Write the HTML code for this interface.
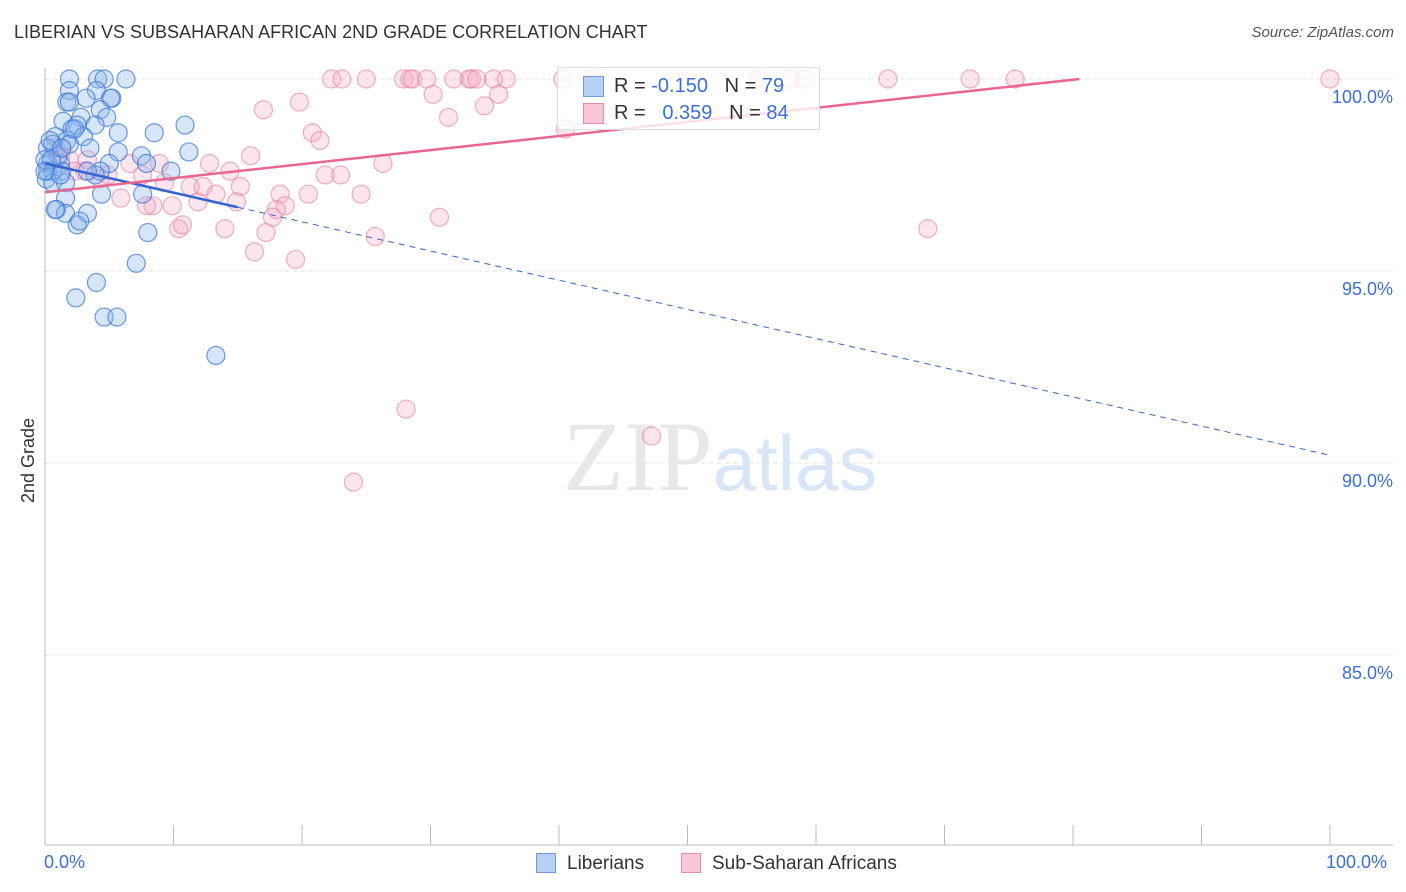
<!DOCTYPE html>
<html><head><meta charset="utf-8"><style>
body{margin:0;background:#fff;font-family:"Liberation Sans",sans-serif;}
#wrap{position:relative;width:1406px;height:892px;overflow:hidden;}
.t{position:absolute;white-space:nowrap;}
</style></head><body>
<div id="wrap">
<div class="t" style="left:14px;top:22px;font-size:18px;color:#333;">LIBERIAN VS SUBSAHARAN AFRICAN 2ND GRADE CORRELATION CHART</div>
<div class="t" style="right:12px;top:24px;font-size:15px;color:#555;font-style:italic;">Source: ZipAtlas.com</div>
<svg id="svg" width="1406" height="892" style="position:absolute;left:0;top:0"></svg>
<div class="t" style="left:18px;font-size:18px;color:#333;transform:rotate(-90deg);transform-origin:0 0;top:503px;">2nd Grade</div>
<div class="t" style="left:44px;top:852px;font-size:18px;color:#3b6fd4;">0.0%</div>
<div class="t" style="left:1326px;top:852px;font-size:18px;color:#3b6fd4;">100.0%</div>
<div class="t" style="left:536px;top:853px;width:20px;height:20px;background:#b9d0f5;border:1px solid #6f97e0;box-sizing:border-box;"></div>
<div class="t" style="left:567px;top:853px;font-size:19px;color:#333;">Liberians</div>
<div class="t" style="left:681px;top:853px;width:20px;height:20px;background:#f8c6d4;border:1px solid #e88aa6;box-sizing:border-box;"></div>
<div class="t" style="left:712px;top:853px;font-size:19px;color:#333;">Sub-Saharan Africans</div>
<div class="t" style="left:557px;top:67px;width:263px;height:63px;border:1px solid #ddd;background:rgba(255,255,255,0.8);box-sizing:border-box;">
 <div class="t" style="left:25px;top:8px;width:21px;height:21px;background:#b9d0f5;border:1px solid #6f97e0;box-sizing:border-box;"></div>
 <div class="t" style="left:56px;top:7px;font-size:20px;color:#333;">R = <span style="color:#3b6fd4">-0.150</span>&nbsp;&nbsp;&nbsp;N = <span style="color:#3b6fd4">79</span></div>
 <div class="t" style="left:25px;top:35px;width:21px;height:21px;background:#f8c6d4;border:1px solid #e88aa6;box-sizing:border-box;"></div>
 <div class="t" style="left:56px;top:34px;font-size:20px;color:#333;">R = &nbsp;&nbsp;<span style="color:#3b6fd4">0.359</span>&nbsp;&nbsp;&nbsp;N = <span style="color:#3b6fd4">84</span></div>
</div>
</div>
<script>
const yTicks=[100,95,90,85];
const yTickLabels=["100.0%","95.0%","90.0%","85.0%"];
const blueX=[1.9,4.1,4.6,6.3,1.9,4.0,5.2,5.1,1.7,1.9,3.2,4.3,4.8,2.8,1.4,2.5,3.9,10.9,2.1,5.7,8.5,0.8,3.0,1.7,0.6,3.5,5.7,11.2,7.5,7.9,5.0,1.2,0.2,0.2,0.6,1.3,4.3,3.9,9.8,0.1,0.6,1.6,4.4,7.6,1.6,0.9,1.6,3.3,0.8,2.5,2.7,8.0,7.1,4.0,2.4,4.6,5.6,13.3,0.2,0.4,1.0,0,0.5,1.2,1.9,2.3,1.3,3.3,0];
const blueY=[100,100,100,100,99.7,99.7,99.5,99.5,99.4,99.4,99.5,99.2,99.0,99.0,98.9,98.8,98.8,98.8,98.7,98.6,98.6,98.5,98.5,98.4,98.3,98.2,98.1,98.1,98.0,97.8,97.8,97.8,97.8,97.6,97.6,97.6,97.6,97.5,97.6,97.4,97.3,97.3,97.0,97.0,96.9,96.6,96.5,96.5,96.6,96.2,96.3,96.0,95.2,94.7,94.3,93.8,93.8,92.8,98.2,98.4,98.0,97.9,97.9,97.5,98.3,98.7,98.2,97.6,97.6];
const pinkX=[22.3,23.1,25.0,27.9,28.4,28.6,29.7,31.8,33.0,33.2,33.6,34.9,35.9,40.3,42.6,55.5,58.0,59.1,65.6,72.0,75.5,100,30.2,35.3,17.0,19.8,34.2,31.4,20.8,21.4,40.5,16.0,26.3,12.8,14.4,8.9,6.6,3.3,1.2,1.9,23.0,21.8,11.3,13.3,15.2,9.3,7.6,18.3,20.5,24.6,5.9,8.4,9.9,11.9,7.9,18.7,18.0,17.7,10.4,10.7,14.0,17.2,25.7,30.7,68.7,16.3,19.5,28.1,47.2,24.0,4.3,2.3,0.8,1.3,3.1,4.9,14.9,12.3];
const pinkY=[100,100,100,100,100,100,100,100,100,100,100,100,100,100,100,100,100,100,100,100,100,100,99.6,99.6,99.2,99.4,99.3,99.0,98.6,98.4,98.7,98.0,97.8,97.8,97.6,97.8,97.8,97.9,98.0,97.9,97.5,97.5,97.2,97.0,97.2,97.3,97.5,97.0,97.0,97.0,96.9,96.7,96.7,96.8,96.7,96.7,96.6,96.4,96.1,96.2,96.1,96.0,95.9,96.4,96.1,95.5,95.3,91.4,90.7,89.5,97.4,97.6,98.2,98.2,97.6,97.5,96.8,97.2];
const blueTrend=[97.8,90.2];
const pinkTrend=[97.05,100.0];
const pinkTrendEndX=80.5;
const blueSolidEnd=15;

const X0=45,X1=1330,YT=79,YB=845,YMIN=80.05,YMAX=100;
const sx=v=>X0+(v/100)*(X1-X0);
const sy=v=>YT+(YMAX-v)/(YMAX-YMIN)*(YB-YT);
const svg=document.getElementById('svg');
const NS='http://www.w3.org/2000/svg';
function mk(tag,attrs){const e=document.createElementNS(NS,tag);for(const k in attrs)e.setAttribute(k,attrs[k]);svg.appendChild(e);return e;}
yTicks.forEach((t,i)=>{
 const g=mk('line',{x1:X0,x2:1393,y1:sy(t),y2:sy(t),stroke:'#ddd','stroke-dasharray':'4,4'});
 
 
 const tx=mk('text',{x:1393,y:sy(t)+24,'text-anchor':'end','font-size':18,fill:'#3b6fd4','font-family':'Liberation Sans, sans-serif'});
 tx.textContent=yTickLabels[i];
 
 
});
const ax=mk('line',{x1:X0,x2:X0,y1:68,y2:YB,stroke:'#bbb'});


const bx=mk('line',{x1:X0,x2:1393,y1:YB,y2:YB,stroke:'#bbb'});


for(let i=0;i<=10;i++){
 const tk=mk('line',{x1:sx(i*10),x2:sx(i*10),y1:YB,y2:YB-20,stroke:'#bbb'});
 
 
}
const wm=mk('text',{x:720,y:490,'text-anchor':'middle','font-size':100,fill:'#e8e8e8','font-family':'Liberation Serif, serif'});
wm.innerHTML='ZIP<tspan fill="#d9e6f7" font-family="Liberation Sans, sans-serif" font-size="78">atlas</tspan>';


pinkX.forEach((v,i)=>{
 const c=mk('circle',{cx:sx(v),cy:sy(pinkY[i]),r:9,fill:'rgba(245,170,195,0.3)',stroke:'rgba(232,130,165,0.65)','stroke-width':1.2});
 
 
});
blueX.forEach((v,i)=>{
 const c=mk('circle',{cx:sx(v),cy:sy(blueY[i]),r:9,fill:'rgba(140,180,235,0.35)',stroke:'rgba(60,120,215,0.75)','stroke-width':1.2});
 
 
});
const by=x=>blueTrend[0]+(blueTrend[1]-blueTrend[0])*x/100;
const l1=mk('line',{x1:sx(0),y1:sy(by(0)),x2:sx(blueSolidEnd),y2:sy(by(blueSolidEnd)),stroke:'#3565d0','stroke-width':2.5});


const l2=mk('line',{x1:sx(blueSolidEnd),y1:sy(by(blueSolidEnd)),x2:sx(100),y2:sy(by(100)),stroke:'#3565d0','stroke-width':1,'stroke-dasharray':'6,5'});


const l3=mk('line',{x1:sx(0),y1:sy(pinkTrend[0]),x2:sx(pinkTrendEndX),y2:sy(pinkTrend[1]),stroke:'#e8668f','stroke-width':2.5});


</script>
</body></html>
